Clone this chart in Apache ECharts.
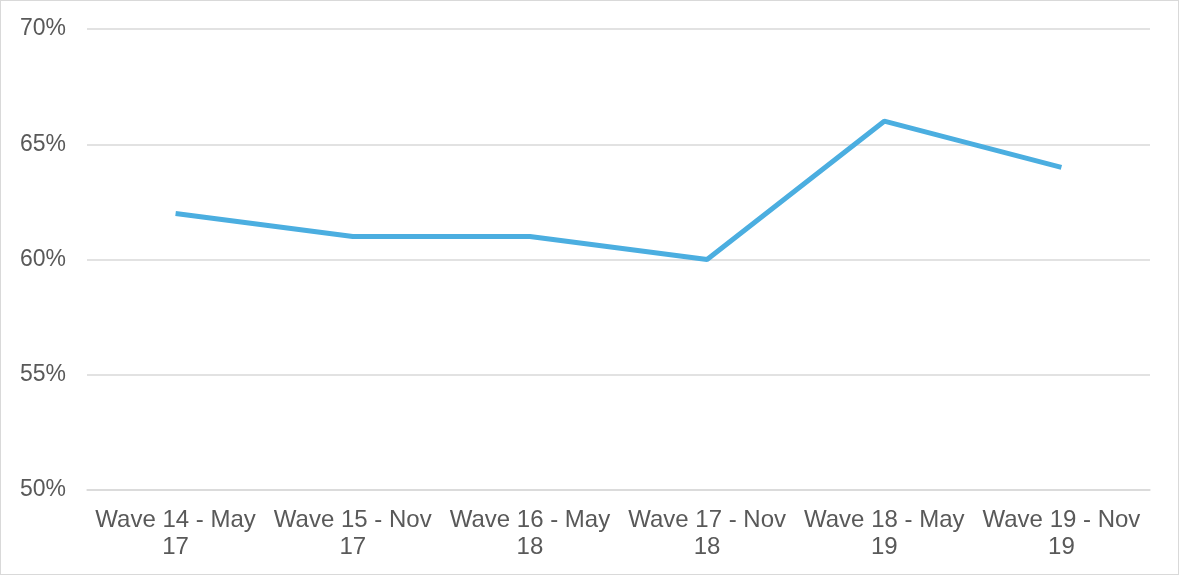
<!DOCTYPE html>
<html><head><meta charset="utf-8">
<script src="https://cdn.jsdelivr.net/npm/echarts@6/dist/echarts.min.js"></script>
<style>
html,body{margin:0;padding:0;background:#fff;}
#c{width:1177px;height:573px;border:1px solid #d9d9d9;}
</style></head><body>
<div id="c"></div>
<script>
const categories = ['Wave 14 - May 17','Wave 15 - Nov 17','Wave 16 - May 18','Wave 17 - Nov 18','Wave 18 - May 19','Wave 19 - Nov 19'];
const values = [62, 61, 61, 60, 66, 64];
const yTicks = [50, 55, 60, 65, 70];

const chart = echarts.init(document.getElementById('c'));
chart.setOption({
  animation:false,
  grid:{left:86,right:28,top:28,bottom:84},
  xAxis:{type:'category',data:categories,boundaryGap:true,
    axisLine:{show:true,lineStyle:{color:'#d9d9d9',width:1.5}},axisTick:{show:false},
    axisLabel:{color:'#595959',fontSize:24,fontFamily:'Liberation Sans, Arial',margin:17,lineHeight:27,interval:0,
      formatter:v=>{const i=v.lastIndexOf(' ');return v.slice(0,i)+'\n'+v.slice(i+1);}}},
  yAxis:{type:'value',min:yTicks[0],max:yTicks[yTicks.length-1],interval:5,
    axisLine:{show:false},axisTick:{show:false},
    splitLine:{lineStyle:{color:'#d9d9d9',width:1.5}},
    axisLabel:{color:'#595959',fontSize:23,fontFamily:'Liberation Sans, Arial',margin:20,padding:[3,1,0,0],formatter:v=>v+'%'}},
  series:[{type:'line',data:values,symbol:'none',lineStyle:{color:'#4BAEE0',width:5},itemStyle:{color:'#4BAEE0'}}]
});
</script></body></html>
